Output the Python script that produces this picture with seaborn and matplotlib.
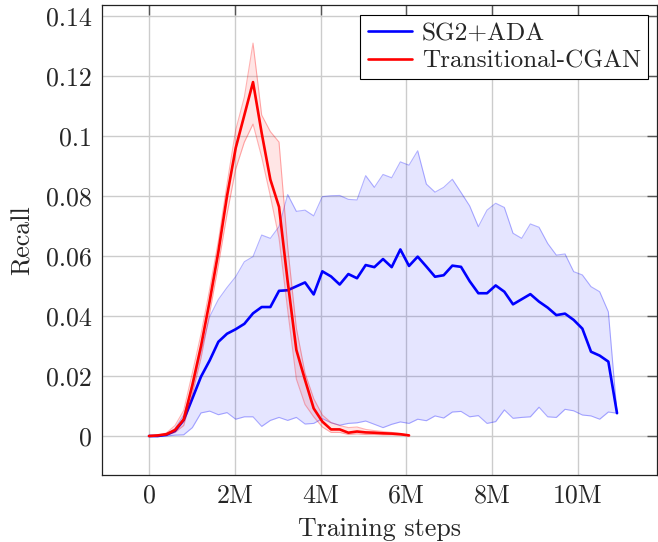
import numpy as np
import pandas as pd
import matplotlib
matplotlib.use("Agg")
import matplotlib.pyplot as plt
import seaborn as sns

# ---------------- data (x in millions of training steps) ----------------
steps_sg2 = [0.000, 0.202, 0.404, 0.606, 0.808, 1.010, 1.212, 1.414, 1.616, 1.818,
             2.020, 2.222, 2.424, 2.626, 2.828, 3.030, 3.232, 3.434, 3.636, 3.838,
             4.040, 4.242, 4.444, 4.646, 4.848, 5.050, 5.252, 5.454, 5.656, 5.858,
             6.060, 6.262, 6.464, 6.666, 6.868, 7.070, 7.272, 7.474, 7.676, 7.878,
             8.080, 8.282, 8.484, 8.686, 8.888, 9.090, 9.292, 9.494, 9.696, 9.898,
             10.100, 10.302, 10.504, 10.706, 10.908]
sg2_mean = [0.0, 0.0, 0.0004, 0.0017, 0.0053, 0.0125, 0.0198, 0.0252, 0.0314, 0.0341,
            0.0356, 0.0374, 0.0409, 0.0430, 0.0430, 0.0484, 0.0486, 0.0499, 0.0512, 0.0472,
            0.0549, 0.0532, 0.0505, 0.0540, 0.0526, 0.0570, 0.0563, 0.0590, 0.0563, 0.0622,
            0.0567, 0.0598, 0.0565, 0.0531, 0.0536, 0.0568, 0.0564, 0.0516, 0.0476, 0.0476,
            0.0502, 0.0481, 0.0439, 0.0456, 0.0473, 0.0448, 0.0428, 0.0403, 0.0408, 0.0387,
            0.0358, 0.0281, 0.0268, 0.0248, 0.0076]
sg2_upper = [0.0, 0.0, 0.0005, 0.0025, 0.0070, 0.0160, 0.0280, 0.0398, 0.0455, 0.0495,
             0.0531, 0.0581, 0.0598, 0.0670, 0.0659, 0.0698, 0.0805, 0.0749, 0.0753, 0.0734,
             0.0798, 0.0801, 0.0802, 0.0789, 0.0787, 0.0868, 0.0829, 0.0872, 0.0861, 0.0914,
             0.0903, 0.0951, 0.0840, 0.0813, 0.0829, 0.0856, 0.0812, 0.0767, 0.0698, 0.0753,
             0.0776, 0.0762, 0.0676, 0.0659, 0.0707, 0.0696, 0.0642, 0.0603, 0.0607, 0.0548,
             0.0537, 0.0498, 0.0481, 0.0414, 0.0076]
sg2_lower = [0.0, 0.0, 0.0, 0.0003, 0.0004, 0.0028, 0.0077, 0.0083, 0.0071, 0.0078,
             0.0056, 0.0064, 0.0064, 0.0032, 0.0052, 0.0062, 0.0052, 0.0062, 0.0040, 0.0042,
             0.0058, 0.0044, 0.0036, 0.0042, 0.0044, 0.0050, 0.0039, 0.0028, 0.0039, 0.0047,
             0.0042, 0.0056, 0.0051, 0.0067, 0.0060, 0.0080, 0.0082, 0.0064, 0.0068, 0.0042,
             0.0048, 0.0087, 0.0059, 0.0062, 0.0064, 0.0096, 0.0064, 0.0062, 0.0089, 0.0084,
             0.0070, 0.0067, 0.0056, 0.0080, 0.0076]

steps_tc = steps_sg2[:31]
tc_mean = [0.0, 0.0002, 0.0006, 0.0020, 0.0055, 0.0170, 0.0300, 0.0450, 0.0614, 0.0800,
           0.0960, 0.1070, 0.1180, 0.1010, 0.0855, 0.0764, 0.0515, 0.0287, 0.0187, 0.0092,
           0.0048, 0.0022, 0.0022, 0.0011, 0.0015, 0.0012, 0.0011, 0.0009, 0.0008, 0.0006,
           0.0002]
tc_upper = [0.0, 0.0003, 0.0010, 0.0035, 0.0085, 0.0210, 0.0340, 0.0490, 0.0650, 0.0840,
            0.1020, 0.1130, 0.1310, 0.1070, 0.1015, 0.0980, 0.0630, 0.0360, 0.0210, 0.0125,
            0.0070, 0.0045, 0.0035, 0.0028, 0.0030, 0.0022, 0.0018, 0.0015, 0.0012, 0.0008,
            0.0003]
tc_lower = [0.0, 0.0, 0.0003, 0.0012, 0.0035, 0.0140, 0.0260, 0.0410, 0.0570, 0.0740,
            0.0890, 0.0980, 0.1040, 0.0930, 0.0800, 0.0660, 0.0420, 0.0190, 0.0105, 0.0064,
            0.0030, 0.0012, 0.0012, 0.0005, 0.0007, 0.0005, 0.0005, 0.0004, 0.0004, 0.0003,
            0.0001]

series_names = ["SG2+ADA", "Transitional-CGAN"]
x_ticks = [0, 2, 4, 6, 8, 10]
x_tick_labels = ["0", "2M", "4M", "6M", "8M", "10M"]
y_ticks = [0, 0.02, 0.04, 0.06, 0.08, 0.1, 0.12, 0.14]
y_tick_labels = ["0", "0.02", "0.04", "0.06", "0.08", "0.1", "0.12", "0.14"]

df_sg2 = pd.DataFrame({"steps": steps_sg2, "mean": sg2_mean, "lo": sg2_lower, "hi": sg2_upper})
df_tc = pd.DataFrame({"steps": steps_tc, "mean": tc_mean, "lo": tc_lower, "hi": tc_upper})

# ---------------- style ----------------
sns.set_theme(style="white")
plt.rcParams["font.family"] = ["cmr10", "DejaVu Serif"]
plt.rcParams["axes.formatter.use_mathtext"] = True
plt.rcParams["mathtext.fontset"] = "cm"

FS = 18.7
fig = plt.figure(figsize=(6.58, 5.42), dpi=100)
ax = fig.add_axes([102 / 658, 67 / 542, 555 / 658, 470 / 542])

blue = "#0000ff"
red = "#ff0000"

# SG2+ADA band + mean
ax.fill_between(df_sg2["steps"], df_sg2["lo"], df_sg2["hi"], color=blue, alpha=0.1, lw=0, zorder=2)
sns.lineplot(data=df_sg2, x="steps", y="hi", ax=ax, color=blue, alpha=0.3, lw=0.8, legend=False, zorder=2.1)
sns.lineplot(data=df_sg2, x="steps", y="lo", ax=ax, color=blue, alpha=0.3, lw=0.8, legend=False, zorder=2.1)
sns.lineplot(data=df_sg2, x="steps", y="mean", ax=ax, color=blue, lw=1.9, label=series_names[0], zorder=3)

# Transitional-CGAN band + mean
ax.fill_between(df_tc["steps"], df_tc["lo"], df_tc["hi"], color=red, alpha=0.1, lw=0, zorder=3.5)
sns.lineplot(data=df_tc, x="steps", y="hi", ax=ax, color=red, alpha=0.3, lw=0.8, legend=False, zorder=3.6)
sns.lineplot(data=df_tc, x="steps", y="lo", ax=ax, color=red, alpha=0.3, lw=0.8, legend=False, zorder=3.6)
sns.lineplot(data=df_tc, x="steps", y="mean", ax=ax, color=red, lw=1.9, label=series_names[1], zorder=4)

# axes
ax.set_xlim(-1.096, 11.84)
ax.set_ylim(-0.0130, 0.1437)
ax.set_xticks(x_ticks)
ax.set_xticklabels(x_tick_labels)
ax.set_yticks(y_ticks)
ax.set_yticklabels(y_tick_labels)
ax.grid(True, color="#cccccc", lw=1.0)
ax.set_axisbelow(True)
ax.tick_params(axis="both", direction="in", length=7, width=1.0, color="#555555",
               top=True, right=True, labelsize=FS)
ax.tick_params(axis="x", pad=6.5)
ax.tick_params(axis="y", pad=7)
for sp in ax.spines.values():
    sp.set_color("#222222")
    sp.set_linewidth(0.9)

ax.set_xlabel("Training steps", fontsize=FS)
ax.set_ylabel("Recall", fontsize=FS)
ax.xaxis.set_label_coords(0.5, -0.089)
ax.yaxis.set_label_coords(-0.121, 0.5)

leg = ax.legend(loc="upper right", bbox_to_anchor=(0.984, 0.979), borderaxespad=0,
                frameon=True, fancybox=False, framealpha=1, edgecolor="black",
                fontsize=18.2, handlelength=1.75, handletextpad=0.4, borderpad=0.28,
                labelspacing=0.2)
leg.get_frame().set_linewidth(0.8)

fig.savefig("out.png", dpi=100)
